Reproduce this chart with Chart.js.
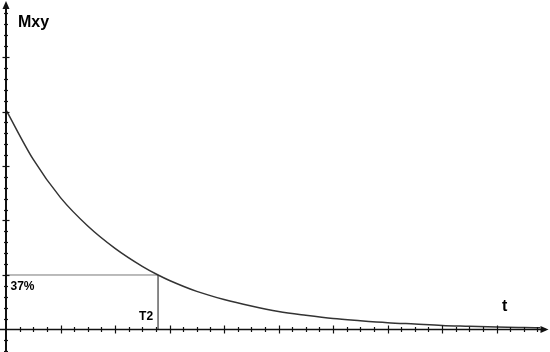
<!DOCTYPE html>
<html>
<head>
<meta charset="utf-8">
<script src="https://cdn.jsdelivr.net/npm/chart.js@4/dist/chart.umd.min.js"></script>
<style>
  html, body { margin: 0; padding: 0; background: #fff; }
  #wrap { width: 550px; height: 352px; }
</style>
</head>
<body>
<div id="wrap"><canvas id="chart"></canvas></div>
<script>
// decay curve (axis units = one major tick)
const tValues   = [0, 0.5, 1.0, 1.5, 2.0, 2.5, 2.79, 3.0, 3.5, 4.0, 4.5, 5.0, 5.5, 6.0, 6.5, 7.0, 7.5, 8.0, 8.5, 9.0, 9.5, 9.8];
const mxyValues = [4.03, 3.12, 2.42, 1.90, 1.49, 1.16, 1.00, 0.90, 0.70, 0.55, 0.43, 0.33, 0.26, 0.20, 0.16, 0.125, 0.10, 0.075, 0.06, 0.045, 0.035, 0.03];

// T2 marker
const t2 = 2.79;
const level37 = 1.00;

// axis ranges and ticks
const xRange = [-0.11, 9.98];
const yRange = [-0.413, 6.046];
const xStep = 0.25;
const yStep = 0.2;

const curve = tValues.map((t, i) => ({ x: t, y: mxyValues[i] }));

// axes, ticks, arrows and labels drawn on top of library scales
const axesPlugin = {
  id: 'axes',
  afterDatasetsDraw(chart) {
    const { ctx, scales: { x, y } } = chart;
    const x0 = x.getPixelForValue(0);
    const y0 = y.getPixelForValue(0);
    ctx.save();
    ctx.strokeStyle = '#111';
    ctx.fillStyle = '#111';

    // y axis
    ctx.lineWidth = 2;
    ctx.beginPath();
    ctx.moveTo(x0, y.bottom);
    ctx.lineTo(x0, y.top + 4);
    ctx.stroke();
    // x axis
    ctx.lineWidth = 1.6;
    ctx.beginPath();
    ctx.moveTo(x.left, y0);
    ctx.lineTo(x.right - 4, y0);
    ctx.stroke();

    // ticks
    ctx.lineWidth = 1.2;
    for (let v = -2; v * yStep <= yRange[1] - 0.15; v++) {
      if (v === 0) continue;
      const py = Math.round(y.getPixelForValue(v * yStep)) + 0.5;
      const len = v % 5 === 0 ? 3.5 : 2;
      ctx.beginPath();
      ctx.moveTo(x0 - len, py);
      ctx.lineTo(x0 + len, py);
      ctx.stroke();
    }
    for (let v = 1; v * xStep <= xRange[1] - 0.2; v++) {
      const px = Math.round(x.getPixelForValue(v * xStep)) + 0.5;
      const len = v % 4 === 0 ? 4 : 2.5;
      ctx.beginPath();
      ctx.moveTo(px, y0 - len);
      ctx.lineTo(px, y0 + len);
      ctx.stroke();
    }

    // arrows
    ctx.beginPath();
    ctx.moveTo(x0, y.top + 1);
    ctx.lineTo(x0 - 3.5, y.top + 9);
    ctx.lineTo(x0 + 3.5, y.top + 9);
    ctx.closePath();
    ctx.fill();
    ctx.beginPath();
    ctx.moveTo(x.right - 1.5, y0);
    ctx.lineTo(x.right - 9.5, y0 - 3.5);
    ctx.lineTo(x.right - 9.5, y0 + 3.5);
    ctx.closePath();
    ctx.fill();

    // labels
    ctx.fillStyle = '#000';
    ctx.textBaseline = 'alphabetic';
    ctx.font = 'bold 16px "Liberation Sans", Arial, sans-serif';
    ctx.textAlign = 'left';
    ctx.fillText('Mxy', x0 + 12, y.top + 26.5);
    ctx.fillText('t', 502, y0 - 18);
    ctx.font = 'bold 12px "Liberation Sans", Arial, sans-serif';
    ctx.fillText('37%', x0 + 4.5, y.getPixelForValue(level37) + 15.5);
    ctx.textAlign = 'right';
    ctx.fillText('T2', x.getPixelForValue(t2) - 5, y0 - 9.5);
    ctx.restore();
  }
};

new Chart(document.getElementById('chart'), {
  type: 'scatter',
  data: {
    datasets: [
      {
        label: 'Mxy',
        data: curve,
        showLine: true,
        borderColor: '#333',
        borderWidth: 1.5,
        pointRadius: 0,
        cubicInterpolationMode: 'monotone'
      },
      {
        label: '37%',
        data: [{ x: 0, y: level37 }, { x: t2, y: level37 }],
        showLine: true,
        borderColor: '#777',
        borderWidth: 1,
        pointRadius: 0
      },
      {
        label: 'T2',
        data: [{ x: t2, y: level37 }, { x: t2, y: 0 }],
        showLine: true,
        borderColor: '#777',
        borderWidth: 1,
        pointRadius: 0
      }
    ]
  },
  options: {
    responsive: true,
    maintainAspectRatio: false,
    animation: false,
    layout: { padding: 0 },
    plugins: { legend: { display: false }, tooltip: { enabled: false } },
    scales: {
      x: { type: 'linear', display: false, min: xRange[0], max: xRange[1] },
      y: { type: 'linear', display: false, min: yRange[0], max: yRange[1] }
    }
  },
  plugins: [axesPlugin]
});
</script>
</body>
</html>
